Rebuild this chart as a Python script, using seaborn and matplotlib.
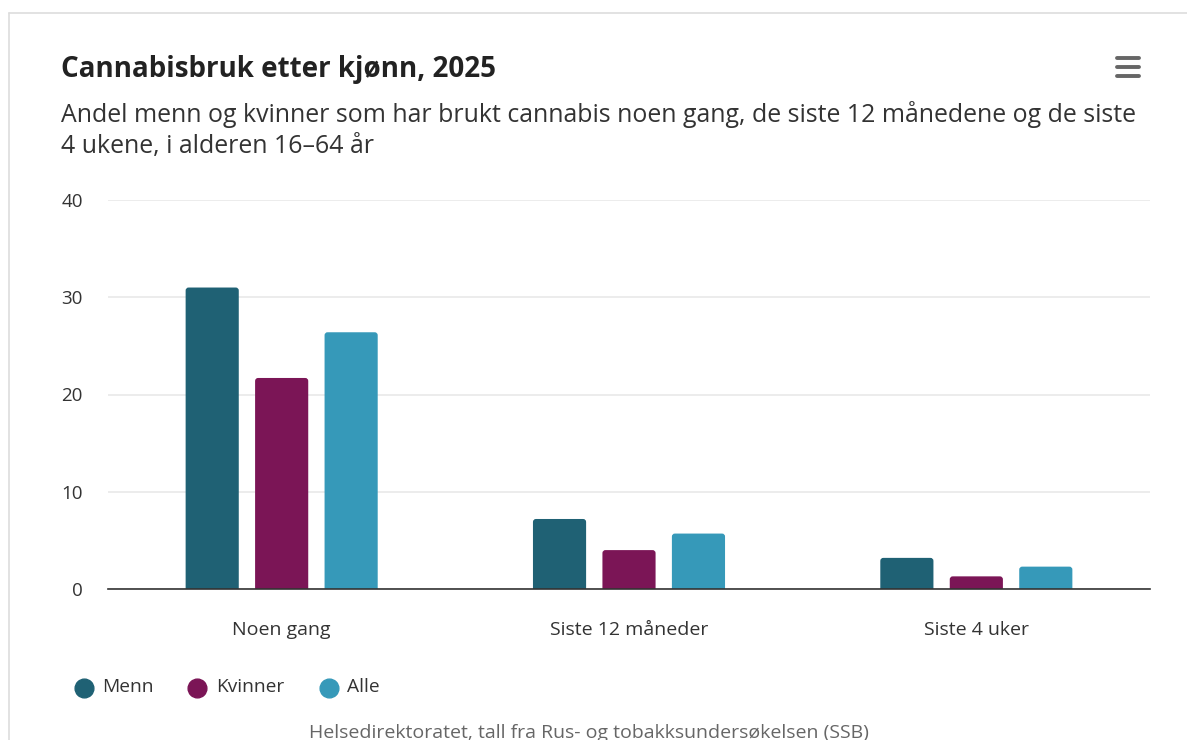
import matplotlib
matplotlib.use("Agg")
import matplotlib.pyplot as plt
from matplotlib.lines import Line2D
from matplotlib.patches import FancyBboxPatch
import seaborn as sns
import pandas as pd

# Data: share (%) of population aged 16-64 who have used cannabis
categories = ["Noen gang", "Siste 12 måneder", "Siste 4 uker"]
groups = ["Menn", "Kvinner", "Alle"]
menn = [31.0, 7.2, 3.2]
kvinner = [21.7, 4.0, 1.3]
alle = [26.4, 5.7, 2.3]
y_ticks = [0, 10, 20, 30, 40]

colors = ["#1f6174", "#7b1556", "#3699b9"]

df = pd.DataFrame({
    "kategori": categories * 3,
    "gruppe": [g for g in groups for _ in categories],
    "andel": menn + kvinner + alle,
})

sns.set_theme(style="white")
plt.rcParams["font.family"] = ["Open Sans", "DejaVu Sans"]

W, H = 1187, 740
fig = plt.figure(figsize=(W / 100, H / 100), dpi=100)
ax = fig.add_axes([108 / W, 1 - 589 / H, (1150 - 108) / W, (589 - 200) / H])

sns.barplot(data=df, x="kategori", y="andel", hue="gruppe", order=categories,
            hue_order=groups, palette=colors, width=0.6, gap=0.235,
            saturation=1, legend=False, ax=ax, zorder=3)

ax.set_ylim(0, 40)
ax.set_xlim(-0.5, 2.5)

# Give the bars slightly rounded top corners (bottom corners hidden below the baseline)
px_x = 3.0 / (1042 / 3.0)   # ~3 px in x data units
px_y = 3.0 / (389 / 40.0)   # ~3 px in y data units
for p in list(ax.patches):
    x0, w, h = p.get_x(), p.get_width(), p.get_height()
    fc = p.get_facecolor()
    p.remove()
    ax.add_patch(FancyBboxPatch((x0, -px_y * 1.5), w, h + px_y * 1.5,
                                boxstyle=f"round,pad=0,rounding_size={px_x}",
                                mutation_aspect=px_y / px_x, facecolor=fc,
                                edgecolor="none", zorder=3))

ax.set_yticks(y_ticks)
ax.set_yticklabels([str(t) for t in y_ticks])
ax.grid(axis="y", color="#e9e9e9", linewidth=1.2, zorder=0)
ax.grid(axis="x", visible=False)
for side in ["top", "right", "left"]:
    ax.spines[side].set_visible(False)
ax.spines["bottom"].set_color("#333333")
ax.spines["bottom"].set_linewidth(1.2)
ax.spines["bottom"].set_zorder(4)
ax.set_xlabel("")
ax.set_ylabel("")
ax.tick_params(axis="y", length=0, pad=18, labelsize=13.5, labelcolor="#333333")
ax.tick_params(axis="x", length=0, pad=23, labelsize=14, labelcolor="#333333")

# Card frame
fig.add_artist(Line2D([9 / W, 1], [1 - 12.5 / H, 1 - 12.5 / H],
                      color="#dddddd", linewidth=1.2, transform=fig.transFigure))
fig.add_artist(Line2D([9 / W, 9 / W], [0, 1 - 12.5 / H],
                      color="#dddddd", linewidth=1.2, transform=fig.transFigure))

# Title and subtitle
fig.text(61 / W, 1 - 70 / H, "Cannabisbruk etter kjønn, 2025",
         fontsize=20, fontweight="bold", color="#222222", va="center", ha="left")
fig.text(61 / W, 1 - 114 / H,
         "Andel menn og kvinner som har brukt cannabis noen gang, de siste 12 månedene og de siste",
         fontsize=17.9, color="#333333", va="center", ha="left")
fig.text(61 / W, 1 - 146 / H, "4 ukene, i alderen 16–64 år",
         fontsize=17.9, color="#333333", va="center", ha="left")

# Menu icon
for yy in [58, 67, 76]:
    fig.add_artist(Line2D([1117 / W, 1139 / W], [1 - yy / H, 1 - yy / H],
                          color="#666666", linewidth=2.8, solid_capstyle="round",
                          transform=fig.transFigure))

# Legend: circle markers with labels
legend_marker_x = [84, 197, 329]
legend_text_x = [102, 216, 347]
legend_y = 1 - 687.5 / H
for g, c, mx, tx in zip(groups, colors, legend_marker_x, legend_text_x):
    fig.add_artist(Line2D([mx / W], [legend_y], marker="o", linestyle="",
                          markersize=13.5, markerfacecolor=c, markeredgecolor=c,
                          transform=fig.transFigure))
    fig.text(tx / W, legend_y, g, fontsize=13.8, color="#333333",
             va="center", ha="left")

# Source credit
fig.text(589 / W, 1 - 733 / H,
         "Helsedirektoratet, tall fra Rus- og tobakksundersøkelsen (SSB)",
         fontsize=14, color="#666666", va="center", ha="center")

fig.savefig("out.png", dpi=100, facecolor="white")
